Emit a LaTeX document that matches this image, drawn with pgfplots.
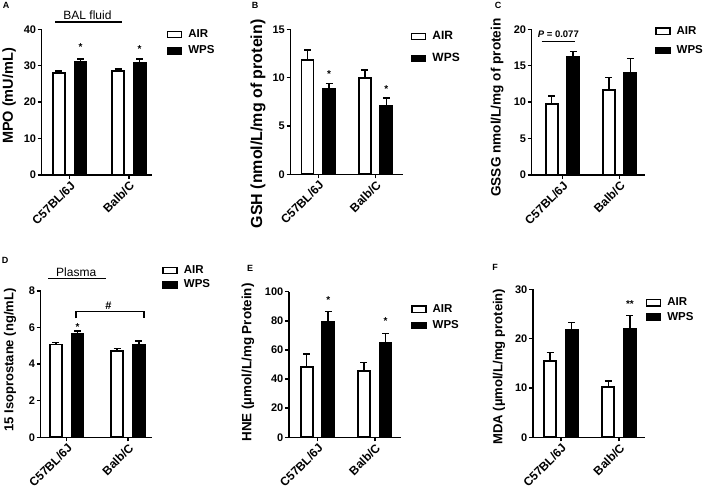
\documentclass[border=0pt]{standalone}
\usepackage{pgfplots}
\pgfplotsset{compat=1.18}
\usepackage{fontspec}
\setmainfont{Liberation Sans}
\newcommand{\fs}[1]{\fontsize{#1}{#1}\selectfont}
\pgfplotsset{
  panel/.style={
    scale only axis, ybar, clip=false,
    axis x line*=bottom, axis y line*=left,
    axis line style={line width=1.5pt},
    tick style={black, line width=1.5pt},
    major tick length=4pt, tick align=outside,
    ymin=0, enlargelimits=false,
    xtick={0,1}, xticklabels={C57BL/6J,Balb/C},
    yticklabel style={font=\bfseries\fs{11}, inner sep=1.5pt},
    xticklabel style={font=\bfseries\fs{12}, rotate=45, anchor=north east, inner sep=1pt},
    /pgf/number format/assume math mode=true,
    error bars/y dir=plus, error bars/y explicit,
    error bars/error bar style={line width=1.6pt, black},
    error bars/error mark options={rotate=90, mark size=3.5pt, line width=1.6pt, black},
    legend cell align=left,
    legend style={draw=none, fill=none, inner sep=0pt, font=\bfseries\fs{11.5}, anchor=west,
      nodes={inner sep=1pt}, /tikz/every odd column/.append style={column sep=5pt}},
    ylabel style={anchor=center},
  },
  air/.style={fill=white, draw=black, line width=1.8pt, bar width=12pt, bar shift=-10.8pt, forget plot},
  wps/.style={fill=black, draw=black, line width=1.8pt, bar width=12pt, bar shift=10.8pt, forget plot},
  legair/.style={legend image code/.code={\draw[fill=white, draw=black, line width=1.5pt] (0pt,-3.2pt) rectangle (14pt,3.2pt);}},
  legwps/.style={legend image code/.code={\draw[fill=black, draw=black, line width=1.5pt] (0pt,-3.2pt) rectangle (14pt,3.2pt);}},
}
\tikzset{ast/.style={font=\bfseries\fs{10}, inner sep=0pt, yshift=-2.2pt},
  let/.style={font=\bfseries\fs{9}, inner sep=0pt}}
\begin{document}
\begin{tikzpicture}
\useasboundingbox (0,0) rectangle (709pt,492pt);
% ---------- A
\begin{axis}[panel, at={(41.7pt,317pt)}, anchor=south west, width=110pt, height=145.7pt,
  xmin=-0.474, xmax=1.387, ymax=40, ytick={0,10,20,30,40},
  ylabel={MPO (mU/mL)}, ylabel style={font=\bfseries\fs{14.5}, at={(axis description cs:-0.295,0.542)}},
  legend style={at={(axis description cs:1.136,0.909)}, row sep=4.6pt}]
\addlegendimage{legair}\addlegendentry{AIR}
\addlegendimage{legwps}\addlegendentry{WPS}
\addplot[air] coordinates {(0,27.9) +- (0,0.7) (1,28.6) +- (0,0.5)};
\addplot[wps] coordinates {(0,31.1) +- (0,0.8) (1,30.9) +- (0,1.0)};
\node[ast, xshift=10.8pt] at (axis cs:0,35.7) {*};
\node[ast, xshift=10.8pt] at (axis cs:1,35.2) {*};
\draw[line width=1.5pt] (axis cs:-0.248,42.0) -- (axis cs:0.89,42.0);
\node[anchor=base, font=\fs{12}, inner sep=0pt] at (axis cs:0.3,42.8) {BAL fluid};
\end{axis}
% ---------- B
\begin{axis}[panel, at={(290.5pt,317.7pt)}, anchor=south west, width=112.8pt, height=145pt,
  xmin=-0.486, xmax=1.486, ymax=15, ytick={0,5,10,15},
  ylabel={GSH (nmol/L/mg of protein)}, ylabel style={font=\bfseries\fs{16}, at={(axis description cs:-0.288,0.347)}},
  legend style={at={(axis description cs:1.066,0.874)}, row sep=10.2pt, font=\bfseries\fs{12}}]
\addlegendimage{legair}\addlegendentry{AIR}
\addlegendimage{legwps}\addlegendentry{WPS}
\addplot[air] coordinates {(0,11.83) +- (0,1.0) (1,10.0) +- (0,0.8)};
\addplot[wps] coordinates {(0,8.79) +- (0,0.62) (1,7.07) +- (0,0.83)};
\node[ast, xshift=10.8pt] at (axis cs:0,10.6) {*};
\node[ast, xshift=10.8pt] at (axis cs:1,9.0) {*};
\end{axis}
% ---------- C
\begin{axis}[panel, at={(531.7pt,317pt)}, anchor=south west, width=113.3pt, height=145.7pt,
  xmin=-0.54, xmax=1.447, ymax=20, ytick={0,5,10,15,20},
  ylabel={GSSG nmol/L/mg of protein}, ylabel style={font=\bfseries\fs{13.6}, at={(axis description cs:-0.306,0.463)}},
  legend style={at={(axis description cs:1.088,0.921)}, row sep=7.9pt}]
\addlegendimage{legair}\addlegendentry{AIR}
\addlegendimage{legwps}\addlegendentry{WPS}
\addplot[air] coordinates {(0,9.75) +- (0,1.1) (1,11.67) +- (0,1.73)};
\addplot[wps] coordinates {(0,16.16) +- (0,0.77) (1,14.05) +- (0,1.92)};
\draw[line width=1.5pt] (axis cs:-0.365,18.3) -- (axis cs:0.219,18.3);
\node[anchor=base, font=\bfseries\fs{9.5}, inner sep=0pt] at (axis cs:-0.073,18.9) {\textit{P} = 0.077};
\end{axis}
% ---------- D
\begin{axis}[panel, at={(40.7pt,54.7pt)}, anchor=south west, width=111pt, height=146.3pt,
  xmin=-0.424, xmax=1.387, ymax=8, ytick={0,2,4,6,8},
  ylabel={15 Isoprostane (ng/mL)}, ylabel style={font=\bfseries\fs{13}, at={(axis description cs:-0.277,0.528)}},
  legend style={at={(axis description cs:1.095,1.092)}, row sep=2.6pt}]
\addlegendimage{legair}\addlegendentry{AIR}
\addlegendimage{legwps}\addlegendentry{WPS}
\addplot[air] coordinates {(0,5.08) +- (0,0.11) (1,4.72) +- (0,0.14)};
\addplot[wps] coordinates {(0,5.63) +- (0,0.18) (1,5.05) +- (0,0.22)};
\node[ast, xshift=10.8pt] at (axis cs:0,6.14) {*};
\draw[line width=1.5pt] (axis cs:0.152,6.5) -- (axis cs:0.152,6.87) -- (axis cs:1.261,6.87) -- (axis cs:1.261,6.5);
\node[font=\bfseries\fs{11}, inner sep=0pt] at (axis cs:0.68,7.19) {\#};
\draw[line width=1.5pt] (axis cs:-0.3,8.69) -- (axis cs:0.641,8.69);
\node[anchor=base, font=\fs{12}, inner sep=0pt] at (axis cs:0.155,8.78) {Plasma};
\end{axis}
% ---------- E
\begin{axis}[panel, at={(289pt,54.7pt)}, anchor=south west, width=111.7pt, height=145.6pt,
  xmin=-0.497, xmax=1.452, ymax=100, ytick={0,20,40,60,80,100},
  ylabel={HNE (µmol/L/mg Protein)}, ylabel style={font=\bfseries\fs{13.4}, at={(axis description cs:-0.367,0.514)}},
  legend style={at={(axis description cs:1.092,0.823)}, row sep=4.6pt}]
\addlegendimage{legair}\addlegendentry{AIR}
\addlegendimage{legwps}\addlegendentry{WPS}
\addplot[air] coordinates {(0,48.3) +- (0,9.1) (1,45.8) +- (0,5.7)};
\addplot[wps] coordinates {(0,79.4) +- (0,6.9) (1,65.0) +- (0,6.2)};
\node[ast, xshift=10.8pt] at (axis cs:0,95.9) {*};
\node[ast, xshift=10.8pt] at (axis cs:1,81.2) {*};
\end{axis}
% ---------- F
\begin{axis}[panel, at={(533pt,54.7pt)}, anchor=south west, width=112pt, height=148pt,
  xmin=-0.476, xmax=1.442, ymax=30, ytick={0,10,20,30},
  ylabel={MDA (µmol/L/mg protein)}, ylabel style={font=\bfseries\fs{13.1}, at={(axis description cs:-0.304,0.477)}},
  legend style={at={(axis description cs:1.006,0.86)}, row sep=3pt}]
\addlegendimage{legair}\addlegendentry{AIR}
\addlegendimage{legwps}\addlegendentry{WPS}
\addplot[air] coordinates {(0,15.47) +- (0,1.75) (1,10.27) +- (0,1.15)};
\addplot[wps] coordinates {(0,21.7) +- (0,1.6) (1,21.9) +- (0,2.8)};
\node[ast, xshift=10.8pt] at (axis cs:1,27.4) {**};
\end{axis}
% panel letters
\node[let] at (6pt,487pt) {A};
\node[let] at (255pt,487pt) {B};
\node[let] at (498pt,487pt) {C};
\node[let] at (5pt,232pt) {D};
\node[let] at (250pt,224pt) {E};
\node[let] at (495pt,225pt) {F};
\end{tikzpicture}
\end{document}
